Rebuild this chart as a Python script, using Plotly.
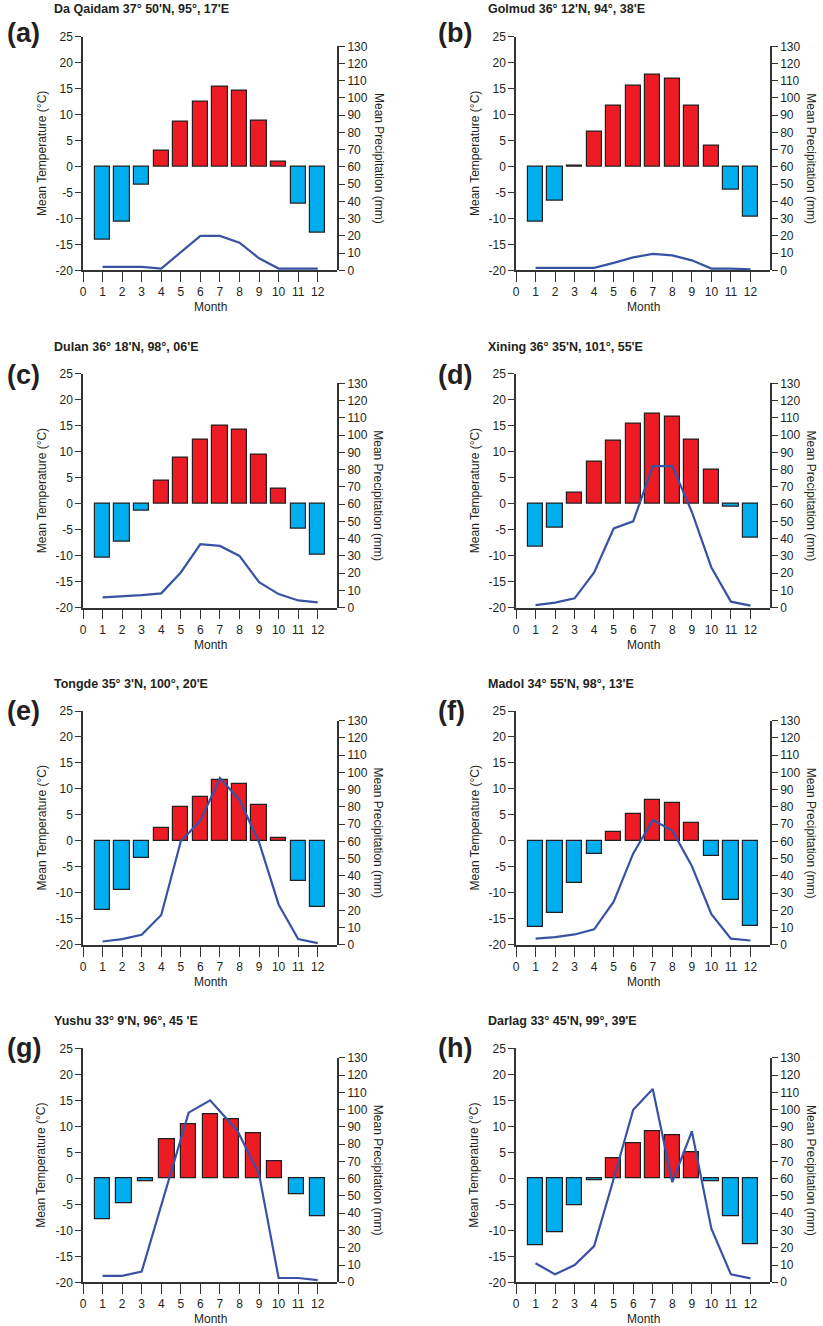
import plotly.graph_objects as go

# ---------------- data ----------------
months = [1, 2, 3, 4, 5, 6, 7, 8, 9, 10, 11, 12]
month_ticks = [0, 1, 2, 3, 4, 5, 6, 7, 8, 9, 10, 11, 12]
temp_ticks = [-20, -15, -10, -5, 0, 5, 10, 15, 20, 25]
precip_ticks = [0, 10, 20, 30, 40, 50, 60, 70, 80, 90, 100, 110, 120, 130]

panel_letters = ["(a)", "(b)", "(c)", "(d)", "(e)", "(f)", "(g)", "(h)"]
station_titles = [
    "Da Qaidam 37° 50'N, 95°, 17'E",
    "Golmud 36° 12'N, 94°, 38'E",
    "Dulan 36° 18'N, 98°, 06'E",
    "Xining 36° 35'N, 101°, 55'E",
    "Tongde 35° 3'N, 100°, 20'E",
    "Madol 34° 55'N, 98°, 13'E",
    "Yushu 33° 9'N, 96°, 45 'E",
    "Darlag 33° 45'N, 99°, 39'E",
]

temp_da_qaidam = [-14.1, -10.6, -3.5, 3.0, 8.7, 12.4, 15.3, 14.6, 8.9, 0.9, -7.2, -12.7]
precip_da_qaidam = [2, 2, 2, 1, 10.6, 20, 20, 16, 7, 1, 1, 1]

temp_golmud = [-10.7, -6.5, 0.2, 6.7, 11.7, 15.5, 17.6, 16.9, 11.7, 4.0, -4.4, -9.7]
precip_golmud = [1.4, 1.4, 1.4, 1.4, 4.3, 7.5, 9.5, 8.7, 5.8, 1.0, 1.0, 0.6]

temp_dulan = [-10.3, -7.3, -1.3, 4.5, 8.9, 12.4, 15.0, 14.3, 9.4, 2.8, -4.8, -9.8]
precip_dulan = [6.0, 6.6, 7.3, 8.3, 20.4, 36.8, 35.8, 30.0, 14.8, 7.9, 4.2, 3.1]

temp_xining = [-8.2, -4.6, 2.2, 8.1, 12.1, 15.3, 17.4, 16.7, 12.3, 6.5, -0.5, -6.6]
precip_xining = [1.5, 2.9, 5.4, 20.4, 45.9, 50.0, 82.0, 82.0, 55.5, 23.3, 3.5, 1.2]

temp_tongde = [-13.3, -9.4, -3.3, 2.5, 6.6, 8.5, 11.8, 11.0, 6.9, 0.6, -7.7, -12.7]
precip_tongde = [1.9, 3.3, 5.8, 17.3, 60.0, 72.0, 96.7, 84.0, 59.5, 23.4, 3.3, 1.0]

temp_madol = [-16.6, -13.8, -8.1, -2.6, 1.7, 5.2, 7.8, 7.2, 3.5, -2.9, -11.3, -16.3]
precip_madol = [3.6, 4.4, 6.0, 9.0, 25.0, 53.0, 72.4, 66.2, 45.7, 17.8, 3.6, 2.5]

# Yushu: the original figure shows 11 bars spread over months 1-12
yushu_bar_months = [1, 2.1, 3.2, 4.3, 5.4, 6.5, 7.6, 8.7, 9.8, 10.9, 12]
temp_yushu = [-7.8, -4.8, -0.6, 7.5, 10.4, 12.4, 11.4, 8.6, 3.2, -3.1, -7.4]
yushu_precip_months = [1, 2, 3, 5.4, 6.5, 7.9, 9, 10, 11, 12]
precip_yushu = [3.7, 3.7, 6.2, 98.3, 105.4, 87.7, 62.6, 2.5, 2.5, 1.3]

temp_darlag = [-12.8, -10.4, -5.2, -0.3, 3.8, 6.7, 9.1, 8.2, 5.0, -0.5, -7.4, -12.6]
precip_darlag = [11, 4.6, 10, 21, 60, 100, 112, 58, 87.5, 31, 4.6, 2.3]

bar_x = [months, months, months, months, months, months, yushu_bar_months, months]
bar_t = [temp_da_qaidam, temp_golmud, temp_dulan, temp_xining,
         temp_tongde, temp_madol, temp_yushu, temp_darlag]
line_x = [months, months, months, months, months, months, yushu_precip_months, months]
line_p = [precip_da_qaidam, precip_golmud, precip_dulan, precip_xining,
          precip_tongde, precip_madol, precip_yushu, precip_darlag]

# ---------------- style / layout ----------------
W, H = 823, 1326
FONT = "Liberation Sans, Arial, Helvetica, sans-serif"
TXT = "#231F20"
RED = "#ED1C24"
BLUE = "#00AEEF"
LINE = "#3953A4"
AXIS = "#333333"
TICK_SIZE = 12
LABEL_SIZE = 12

col_left = [83, 516]
col_right = [337.3, 770]
row_top = [36.7, 373.7, 711, 1048.3]
row_bot = [270.3, 607.7, 944.8, 1282.3]
title_x = [52, 485.5]
title_y = [9.3, 346.7, 684, 1020.5]
letter_x = [5, 436]
letter_y = [33, 375, 711, 1048]
right_frac = 224.0 / 233.6


def px(v):
    return v / W


def py(v):
    return 1 - v / H


fig = go.Figure()
layout = dict(
    width=W, height=H,
    margin=dict(l=0, r=0, t=0, b=0),
    paper_bgcolor="white", plot_bgcolor="rgba(0,0,0,0)",
    showlegend=False,
    font=dict(family=FONT, size=LABEL_SIZE, color=TXT),
    bargap=0,
)
annotations = []

for i in range(8):
    r, c = divmod(i, 2)
    xa = "x" if i == 0 else f"x{i + 1}"
    ya = "y" if i == 0 else f"y{i + 1}"
    ya2 = f"y{i + 9}"
    xkey = "xaxis" if i == 0 else f"xaxis{i + 1}"
    ykey = "yaxis" if i == 0 else f"yaxis{i + 1}"
    y2key = f"yaxis{i + 9}"

    colors = [RED if t >= 0 else BLUE for t in bar_t[i]]
    fig.add_trace(go.Bar(
        x=bar_x[i], y=bar_t[i], width=0.78,
        marker=dict(color=colors, line=dict(color=TXT, width=1.2)),
        xaxis=xa, yaxis=ya, hoverinfo="x+y",
    ))
    fig.add_trace(go.Scatter(
        x=line_x[i], y=line_p[i], mode="lines",
        line=dict(color=LINE, width=2.2),
        xaxis=xa, yaxis=ya2, hoverinfo="x+y",
    ))

    xd = [px(col_left[c]), px(col_right[c])]
    yb = py(row_bot[r])
    yt = py(row_top[r])
    yd = [yb, yt]
    yd2 = [yb, yb + (yt - yb) * right_frac]

    common = dict(
        ticks="outside", tickwidth=1.3, tickcolor=AXIS,
        showline=True, linecolor=AXIS, linewidth=1.5,
        showgrid=False, zeroline=False, automargin=False,
        tickfont=dict(size=TICK_SIZE, color=TXT, family=FONT),
        fixedrange=True, tickmode="array",
    )
    layout[xkey] = dict(
        domain=xd, anchor=ya, range=[0, 13],
        tickvals=month_ticks, ticktext=[str(v) for v in month_ticks],
        ticklen=10, **common,
    )
    layout[ykey] = dict(
        domain=yd, anchor=xa, range=[-20, 25],
        tickvals=temp_ticks, ticktext=[str(v) for v in temp_ticks],
        ticklen=6, **common,
    )
    layout[y2key] = dict(
        domain=yd2, anchor=xa, side="right", range=[0, 130],
        tickvals=precip_ticks, ticktext=[str(v) for v in precip_ticks],
        ticklen=6, **common,
    )

    # station title
    annotations.append(dict(
        text="<b>" + station_titles[i] + "</b>", xref="paper", yref="paper",
        x=px(title_x[c]), y=py(title_y[r]), xanchor="left", yanchor="middle",
        showarrow=False, font=dict(size=12.5, color=TXT, family=FONT),
    ))
    # panel letter
    annotations.append(dict(
        text="<b>" + panel_letters[i] + "</b>", xref="paper", yref="paper",
        x=px(letter_x[c]), y=py(letter_y[r]), xanchor="left", yanchor="middle",
        showarrow=False, font=dict(size=27, color=TXT, family=FONT),
    ))
    # left axis title
    annotations.append(dict(
        text="Mean Temperature (°C)", xref="paper", yref="paper",
        x=px(col_left[c] - 41.5), y=(yd[0] + yd[1]) / 2, xanchor="center", yanchor="middle",
        textangle=-90, showarrow=False, font=dict(size=LABEL_SIZE, color=TXT, family=FONT),
    ))
    # right axis title
    annotations.append(dict(
        text="Mean Precipitation (mm)", xref="paper", yref="paper",
        x=px(col_right[c] + 41), y=(yd2[0] + yd2[1]) / 2, xanchor="center", yanchor="middle",
        textangle=90, showarrow=False, font=dict(size=LABEL_SIZE, color=TXT, family=FONT),
    ))
    # x axis title
    annotations.append(dict(
        text="Month", xref="paper", yref="paper",
        x=px(col_left[c] + 6.5 * (col_right[c] - col_left[c]) / 13),
        y=py(row_bot[r] + 37), xanchor="center", yanchor="middle",
        showarrow=False, font=dict(size=LABEL_SIZE, color=TXT, family=FONT),
    ))

layout["annotations"] = annotations
fig.update_layout(**layout)
fig.write_html(
    "out.html",
    config={"displayModeBar": False},
    post_script="document.body.style.margin='0px';document.body.style.overflow='hidden';",
)
